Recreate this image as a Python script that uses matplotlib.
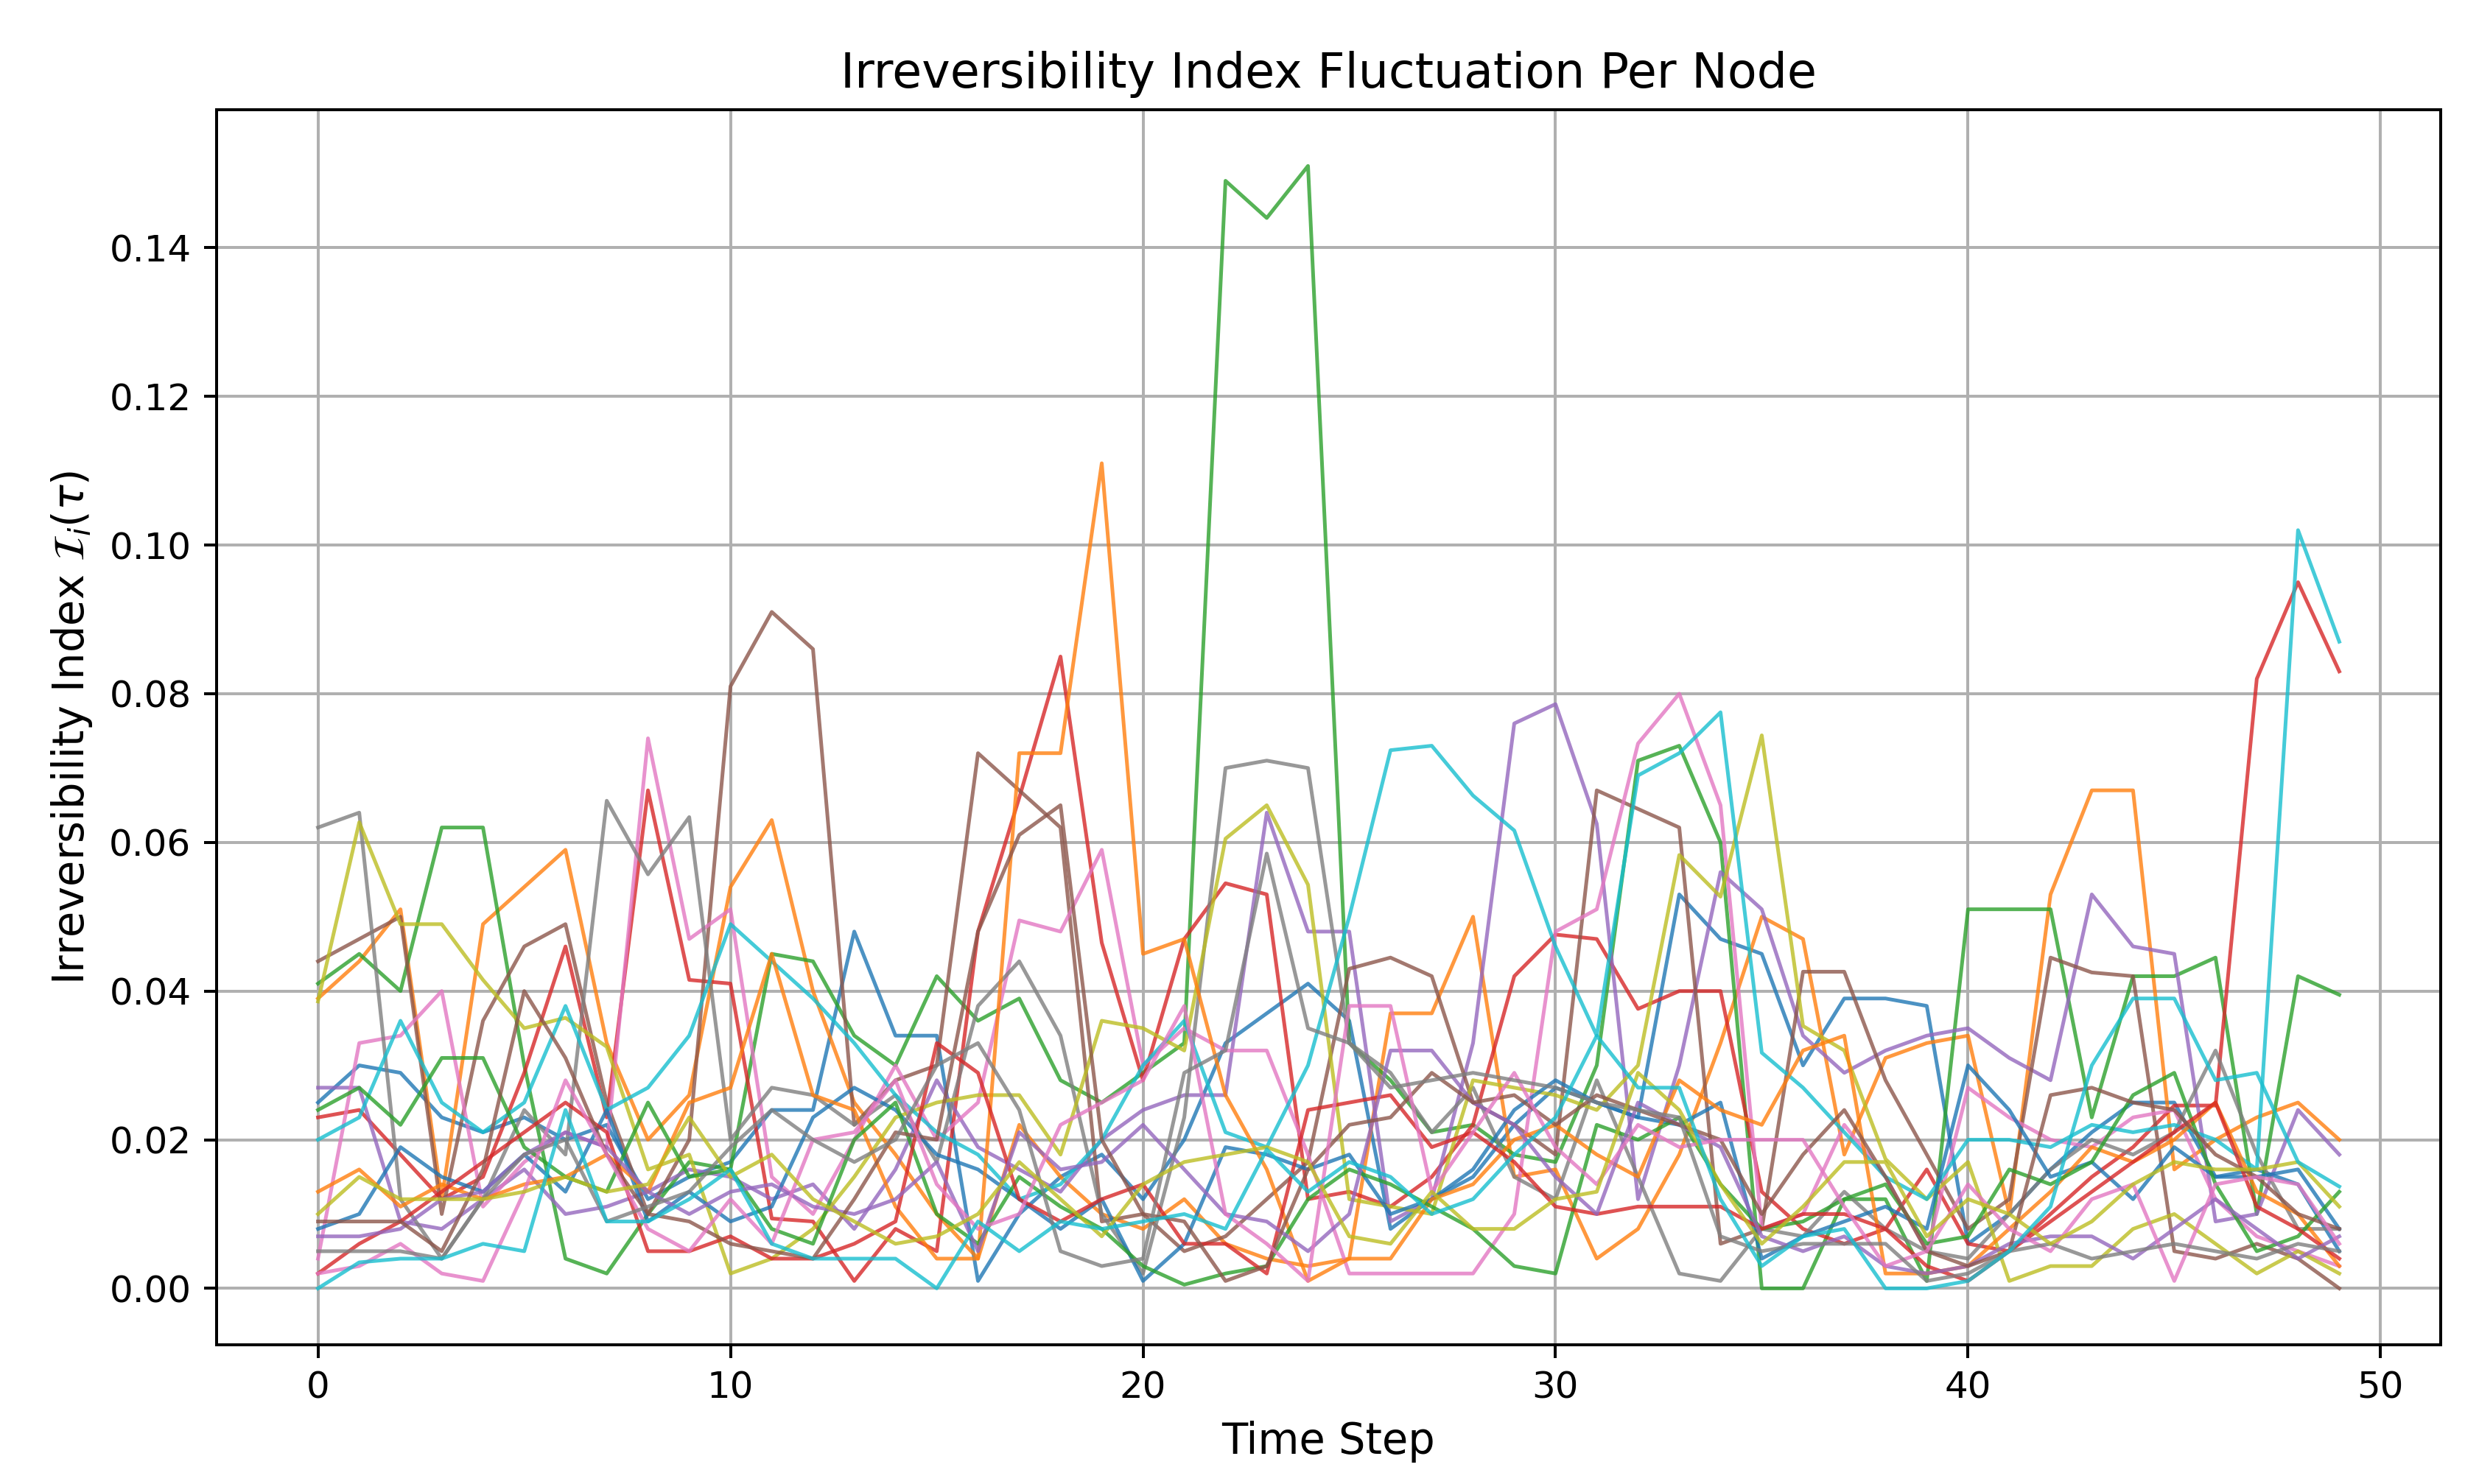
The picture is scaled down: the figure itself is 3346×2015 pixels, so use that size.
import numpy as np
import matplotlib.pyplot as plt

# time steps and per-node irreversibility values
steps = list(range(50))

blue_a = [0.025, 0.030, 0.029, 0.023, 0.021, 0.023, 0.020, 0.022, 0.012, 0.015,
          0.017, 0.024, 0.024, 0.048, 0.034, 0.034, 0.001, 0.010, 0.015, 0.018,
          0.012, 0.020, 0.033, 0.037, 0.041, 0.036, 0.008, 0.012, 0.015, 0.022,
          0.027, 0.025, 0.023, 0.053, 0.047, 0.045, 0.030, 0.039, 0.039, 0.038,
          0.006, 0.010, 0.016, 0.021, 0.025, 0.025, 0.015, 0.016, 0.014, 0.005]
orange_a = [0.039, 0.044, 0.051, 0.012, 0.049, 0.054, 0.059, 0.033, 0.020, 0.026,
            0.054, 0.063, 0.040, 0.025, 0.018, 0.010, 0.004, 0.022, 0.015, 0.010,
            0.008, 0.012, 0.006, 0.004, 0.003, 0.004, 0.037, 0.037, 0.050, 0.015,
            0.016, 0.004, 0.008, 0.018, 0.033, 0.050, 0.047, 0.018, 0.031, 0.033,
            0.034, 0.010, 0.053, 0.067, 0.067, 0.016, 0.020, 0.023, 0.025, 0.020]
green_a = [0.041, 0.045, 0.040, 0.062, 0.062, 0.030, 0.004, 0.002, 0.010, 0.017,
           0.016, 0.045, 0.044, 0.034, 0.030, 0.042, 0.036, 0.039, 0.028, 0.025,
           0.029, 0.033, 0.149, 0.144, 0.151, 0.033, 0.028, 0.021, 0.022, 0.018,
           0.017, 0.030, 0.071, 0.073, 0.060, 0.000, 0.000, 0.012, 0.012, 0.001,
           0.051, 0.051, 0.051, 0.023, 0.042, 0.042, 0.0445, 0.010, 0.042, 0.0395]
red_a = [0.023, 0.024, 0.018, 0.012, 0.015, 0.029, 0.046, 0.023, 0.067, 0.0415,
         0.041, 0.0094, 0.009, 0.001, 0.008, 0.005, 0.048, 0.066, 0.085, 0.0465,
         0.028, 0.047, 0.0545, 0.053, 0.012, 0.013, 0.011, 0.015, 0.022, 0.042,
         0.0476, 0.047, 0.0376, 0.040, 0.040, 0.013, 0.008, 0.006, 0.008, 0.016,
         0.006, 0.005, 0.010, 0.015, 0.019, 0.0246, 0.0246, 0.082, 0.095, 0.083]
purple_a = [0.027, 0.027, 0.009, 0.008, 0.012, 0.016, 0.010, 0.011, 0.013, 0.016,
            0.015, 0.012, 0.014, 0.008, 0.016, 0.028, 0.019, 0.016, 0.013, 0.020,
            0.024, 0.026, 0.026, 0.064, 0.048, 0.048, 0.009, 0.012, 0.033, 0.076,
            0.0786, 0.0625, 0.012, 0.030, 0.056, 0.051, 0.034, 0.029, 0.032, 0.034,
            0.035, 0.031, 0.028, 0.053, 0.046, 0.045, 0.009, 0.010, 0.024, 0.018]
brown_a = [0.044, 0.047, 0.050, 0.010, 0.036, 0.046, 0.049, 0.025, 0.010, 0.020,
           0.081, 0.091, 0.086, 0.022, 0.028, 0.030, 0.072, 0.067, 0.062, 0.009,
           0.010, 0.005, 0.007, 0.012, 0.017, 0.043, 0.0445, 0.042, 0.025, 0.022,
           0.018, 0.067, 0.0645, 0.062, 0.006, 0.008, 0.0426, 0.0426, 0.028, 0.018,
           0.008, 0.012, 0.0445, 0.0425, 0.042, 0.005, 0.004, 0.006, 0.004, 0.000]
pink_a = [0.004, 0.033, 0.034, 0.040, 0.011, 0.017, 0.021, 0.019, 0.074, 0.047,
          0.051, 0.015, 0.010, 0.020, 0.030, 0.020, 0.025, 0.0495, 0.048, 0.059,
          0.030, 0.035, 0.032, 0.032, 0.018, 0.002, 0.002, 0.002, 0.002, 0.010,
          0.048, 0.051, 0.0733, 0.080, 0.065, 0.008, 0.010, 0.022, 0.015, 0.005,
          0.027, 0.023, 0.020, 0.019, 0.023, 0.024, 0.012, 0.007, 0.005, 0.003]
grey_a = [0.062, 0.064, 0.012, 0.004, 0.012, 0.024, 0.018, 0.0656, 0.0557, 0.0634,
          0.020, 0.027, 0.026, 0.022, 0.026, 0.017, 0.038, 0.044, 0.034, 0.010,
          0.002, 0.023, 0.070, 0.071, 0.070, 0.033, 0.029, 0.021, 0.027, 0.015,
          0.012, 0.028, 0.015, 0.002, 0.001, 0.008, 0.007, 0.013, 0.008, 0.005,
          0.004, 0.010, 0.016, 0.020, 0.018, 0.021, 0.032, 0.018, 0.008, 0.008]
olive_a = [0.0386, 0.0627, 0.049, 0.049, 0.0415, 0.035, 0.0364, 0.0325, 0.016, 0.018,
           0.002, 0.004, 0.008, 0.015, 0.023, 0.025, 0.026, 0.026, 0.018, 0.036,
           0.035, 0.032, 0.0605, 0.065, 0.0543, 0.012, 0.011, 0.010, 0.028, 0.027,
           0.026, 0.024, 0.030, 0.0583, 0.0527, 0.0744, 0.0353, 0.032, 0.0174, 0.012,
           0.017, 0.001, 0.003, 0.003, 0.008, 0.010, 0.006, 0.002, 0.005, 0.002]
cyan_a = [0.020, 0.023, 0.036, 0.025, 0.021, 0.025, 0.038, 0.024, 0.027, 0.034,
          0.049, 0.044, 0.039, 0.033, 0.026, 0.021, 0.018, 0.012, 0.014, 0.020,
          0.030, 0.036, 0.021, 0.019, 0.030, 0.050, 0.0724, 0.073, 0.0663, 0.0616,
          0.046, 0.034, 0.069, 0.072, 0.0775, 0.0317, 0.027, 0.021, 0.015, 0.012,
          0.020, 0.020, 0.019, 0.022, 0.021, 0.022, 0.020, 0.016, 0.102, 0.087]

blue_b = [0.008, 0.010, 0.019, 0.015, 0.013, 0.018, 0.013, 0.024, 0.009, 0.013,
          0.009, 0.011, 0.023, 0.027, 0.024, 0.018, 0.016, 0.012, 0.008, 0.012,
          0.001, 0.006, 0.019, 0.018, 0.016, 0.018, 0.010, 0.012, 0.016, 0.024,
          0.028, 0.025, 0.023, 0.022, 0.025, 0.004, 0.007, 0.009, 0.011, 0.008,
          0.030, 0.024, 0.015, 0.017, 0.012, 0.019, 0.015, 0.015, 0.016, 0.008]
orange_b = [0.013, 0.016, 0.011, 0.014, 0.012, 0.014, 0.015, 0.018, 0.013, 0.025,
            0.027, 0.045, 0.026, 0.024, 0.011, 0.004, 0.004, 0.072, 0.072, 0.111,
            0.045, 0.047, 0.026, 0.016, 0.001, 0.004, 0.004, 0.012, 0.014, 0.020,
            0.022, 0.018, 0.015, 0.028, 0.024, 0.022, 0.032, 0.034, 0.002, 0.002,
            0.003, 0.008, 0.013, 0.019, 0.017, 0.020, 0.025, 0.013, 0.010, 0.003]
green_b = [0.024, 0.027, 0.022, 0.031, 0.031, 0.019, 0.015, 0.013, 0.025, 0.015,
           0.016, 0.008, 0.006, 0.020, 0.025, 0.010, 0.006, 0.015, 0.011, 0.008,
           0.003, 0.0005, 0.002, 0.003, 0.012, 0.016, 0.014, 0.011, 0.008, 0.003,
           0.002, 0.022, 0.020, 0.023, 0.014, 0.008, 0.009, 0.012, 0.014, 0.006,
           0.007, 0.016, 0.014, 0.017, 0.026, 0.029, 0.014, 0.005, 0.007, 0.013]
red_b = [0.002, 0.006, 0.009, 0.013, 0.017, 0.021, 0.025, 0.021, 0.005, 0.005,
         0.007, 0.004, 0.004, 0.006, 0.009, 0.033, 0.029, 0.012, 0.009, 0.012,
         0.014, 0.006, 0.006, 0.002, 0.024, 0.025, 0.026, 0.019, 0.021, 0.017,
         0.011, 0.010, 0.011, 0.011, 0.011, 0.008, 0.010, 0.010, 0.008, 0.003,
         0.001, 0.005, 0.009, 0.013, 0.017, 0.021, 0.025, 0.011, 0.008, 0.004]
purple_b = [0.007, 0.007, 0.008, 0.012, 0.013, 0.018, 0.021, 0.019, 0.013, 0.010,
            0.013, 0.014, 0.011, 0.010, 0.012, 0.017, 0.005, 0.021, 0.016, 0.017,
            0.022, 0.016, 0.010, 0.009, 0.005, 0.010, 0.032, 0.032, 0.025, 0.022,
            0.015, 0.010, 0.025, 0.022, 0.019, 0.007, 0.005, 0.007, 0.003, 0.002,
            0.003, 0.006, 0.007, 0.007, 0.004, 0.008, 0.012, 0.008, 0.004, 0.007]
brown_b = [0.009, 0.009, 0.009, 0.005, 0.016, 0.040, 0.031, 0.018, 0.010, 0.009,
           0.006, 0.005, 0.004, 0.012, 0.021, 0.020, 0.048, 0.061, 0.065, 0.020,
           0.010, 0.009, 0.001, 0.003, 0.016, 0.022, 0.023, 0.029, 0.025, 0.026,
           0.022, 0.026, 0.024, 0.022, 0.020, 0.010, 0.018, 0.024, 0.015, 0.005,
           0.003, 0.005, 0.026, 0.027, 0.025, 0.024, 0.018, 0.015, 0.010, 0.008]
pink_b = [0.002, 0.003, 0.006, 0.002, 0.001, 0.013, 0.028, 0.018, 0.008, 0.005,
          0.012, 0.006, 0.020, 0.021, 0.028, 0.014, 0.008, 0.010, 0.022, 0.025,
          0.028, 0.038, 0.010, 0.006, 0.001, 0.038, 0.038, 0.013, 0.021, 0.029,
          0.019, 0.014, 0.022, 0.019, 0.020, 0.020, 0.020, 0.011, 0.003, 0.005,
          0.014, 0.008, 0.005, 0.012, 0.014, 0.001, 0.014, 0.015, 0.014, 0.006]
grey_b = [0.005, 0.005, 0.005, 0.004, 0.012, 0.018, 0.020, 0.009, 0.011, 0.013,
          0.019, 0.024, 0.020, 0.017, 0.020, 0.030, 0.033, 0.024, 0.005, 0.003,
          0.004, 0.029, 0.032, 0.0585, 0.035, 0.033, 0.027, 0.028, 0.029, 0.028,
          0.027, 0.025, 0.024, 0.023, 0.007, 0.005, 0.006, 0.006, 0.006, 0.001,
          0.002, 0.005, 0.006, 0.004, 0.005, 0.006, 0.005, 0.004, 0.006, 0.005]
olive_b = [0.010, 0.015, 0.012, 0.012, 0.012, 0.013, 0.015, 0.013, 0.014, 0.023,
           0.015, 0.018, 0.012, 0.009, 0.006, 0.007, 0.010, 0.017, 0.012, 0.007,
           0.014, 0.017, 0.018, 0.019, 0.017, 0.007, 0.006, 0.013, 0.008, 0.008,
           0.012, 0.013, 0.029, 0.024, 0.014, 0.006, 0.011, 0.017, 0.017, 0.007,
           0.012, 0.010, 0.006, 0.009, 0.014, 0.017, 0.016, 0.016, 0.017, 0.011]
cyan_b = [0.000, 0.0035, 0.004, 0.004, 0.006, 0.005, 0.024, 0.009, 0.009, 0.012,
          0.016, 0.006, 0.004, 0.004, 0.004, 0.000, 0.009, 0.005, 0.009, 0.008,
          0.009, 0.010, 0.008, 0.0187, 0.013, 0.017, 0.015, 0.010, 0.012, 0.018,
          0.023, 0.034, 0.027, 0.027, 0.012, 0.003, 0.007, 0.008, 0.000, 0.000,
          0.001, 0.005, 0.011, 0.030, 0.039, 0.039, 0.028, 0.029, 0.017, 0.0137]

nodes = [blue_a, orange_a, green_a, red_a, purple_a, brown_a, pink_a, grey_a, olive_a, cyan_a,
         blue_b, orange_b, green_b, red_b, purple_b, brown_b, pink_b, grey_b, olive_b, cyan_b]


def main():
    fig = plt.figure(figsize=(3346 / 360, 2015 / 360), dpi=360)
    ax = fig.add_axes([0.088, 0.094, 0.902, 0.832])

    for vals in nodes:
        ax.plot(steps, vals, linewidth=1.0, alpha=0.8)

    ax.set_title("Irreversibility Index Fluctuation Per Node", fontsize=13)
    ax.set_xlabel("Time Step", fontsize=11.5)
    ax.set_ylabel(r"Irreversibility Index $\mathcal{I}_i(\tau)$", fontsize=11.5)
    ax.tick_params(labelsize=10)
    ax.grid(True)
    fig.savefig("out.png", dpi=360)


if __name__ == "__main__":
    main()
